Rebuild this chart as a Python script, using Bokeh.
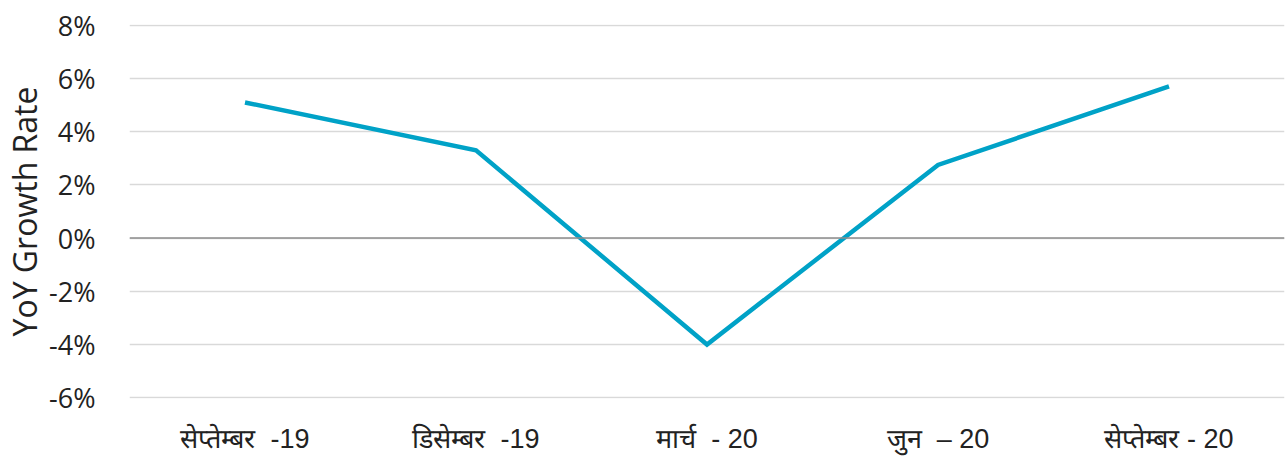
from bokeh.plotting import figure
from bokeh.models import Range1d, FixedTicker, Span
from bokeh.embed import file_html
from bokeh.resources import INLINE

NB = "\u00a0"
categories = ["सेप्तेम्बर" + NB + NB + "-19", "डिसेम्बर" + NB + NB + "-19", "मार्च" + NB + NB + "- 20",
              "जुन" + NB + NB + "– 20", "सेप्तेम्बर" + NB + "- 20"]
growth = [5.1, 3.3, -4.0, 2.75, 5.7]
y_ticks = [-6, -4, -2, 0, 2, 4, 6, 8]
y_tick_labels = {t: f"{t}%" for t in y_ticks}

p = figure(x_range=categories, y_range=Range1d(-6.03, 8.03), width=1286, height=470,
           output_backend="svg", toolbar_location=None,
           min_border_left=126, min_border_right=2, min_border_top=24, min_border_bottom=72)
p.outline_line_color = None
p.background_fill_color = "white"
p.border_fill_color = "white"

p.line(x=categories, y=growth, line_color="#00A2C7", line_width=4.5, line_join="miter")

p.add_layout(Span(location=0, dimension="width", line_color="#8c8c8c", line_width=1.5))

p.yaxis.ticker = FixedTicker(ticks=y_ticks)
p.yaxis.major_label_overrides = y_tick_labels
p.yaxis.axis_line_color = None
p.yaxis.major_tick_line_color = None
p.yaxis.minor_tick_line_color = None
p.yaxis.major_label_text_font = "Open Sans"
p.yaxis.major_label_text_font_size = "27px"
p.yaxis.major_label_text_color = "#222222"
p.yaxis.major_label_standoff = 28
p.yaxis.axis_label = "YoY Growth Rate"
p.yaxis.axis_label_text_font = "Open Sans"
p.yaxis.axis_label_text_font_size = "32px"
p.yaxis.axis_label_text_font_style = "normal"
p.yaxis.axis_label_text_color = "#222222"
p.yaxis.axis_label_standoff = 0

p.xaxis.axis_line_color = None
p.xaxis.major_tick_line_color = None
p.xaxis.major_label_text_font = "Liberation Sans"
p.xaxis.major_label_text_font_size = "27px"
p.xaxis.major_label_text_color = "#222222"
p.xaxis.major_label_standoff = 19

p.xgrid.grid_line_color = None
p.ygrid.grid_line_color = "#d9d9d9"
p.ygrid.grid_line_width = 1.5

open("out.html", "w").write(file_html(p, INLINE))
